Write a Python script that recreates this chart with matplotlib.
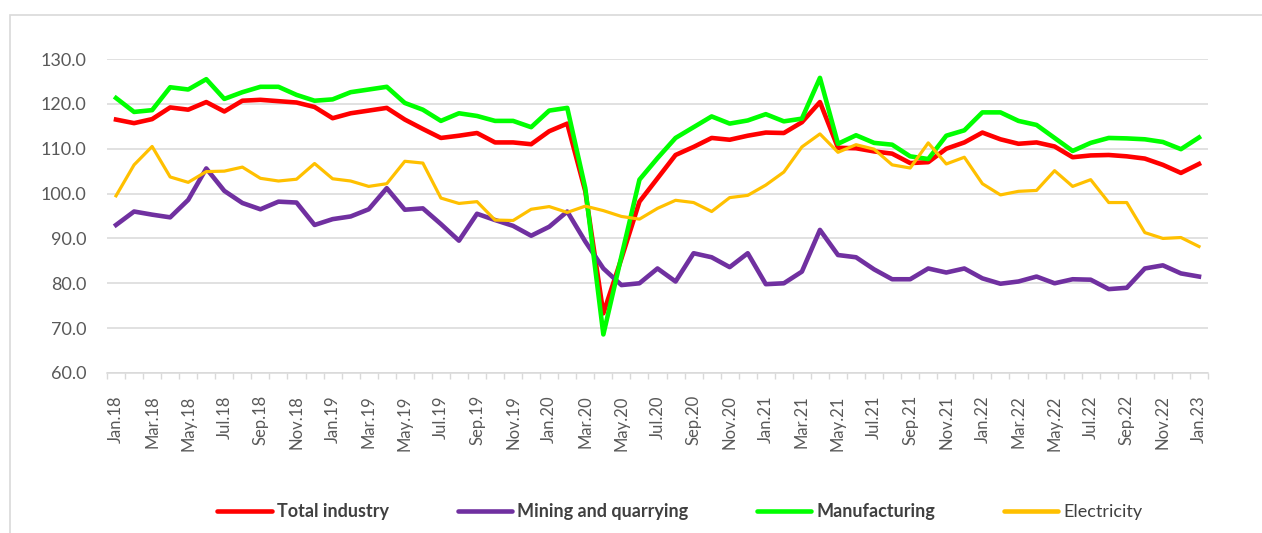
import matplotlib.pyplot as plt
from matplotlib.patches import Rectangle
from matplotlib.ticker import FixedLocator, FormatStrFormatter

plt.rcParams['font.family'] = ['Lato', 'DejaVu Sans']

# monthly index values, Jan.18 .. Jan.23
total = [116.5, 115.7, 116.6, 119.2, 118.7, 120.4, 118.3, 120.7, 120.9, 120.6, 120.3, 119.3,
         116.8, 117.9, 118.5, 119.1, 116.5, 114.4, 112.4, 112.9, 113.5, 111.4, 111.4, 111.0,
         113.9, 115.6, 100.5, 73.3, 85.5, 98.2, 103.4, 108.6, 110.4, 112.4, 112.0, 112.9,
         113.6, 113.5, 115.9, 120.4, 110.2, 110.1, 109.4, 108.9, 106.8, 107.0, 110.0, 111.4,
         113.6, 112.1, 111.1, 111.4, 110.5, 108.1, 108.5, 108.6, 108.3, 107.8, 106.4, 104.6,
         106.6]
mining = [93.0, 96.0, 95.3, 94.7, 98.6, 105.6, 100.6, 97.9, 96.5, 98.2, 98.0, 93.0,
          94.3, 94.9, 96.5, 101.2, 96.4, 96.7, 93.2, 89.5, 95.5, 94.1, 92.8, 90.6,
          92.6, 96.0, 89.3, 83.3, 79.6, 80.0, 83.3, 80.4, 86.7, 85.8, 83.6, 86.7,
          79.8, 80.0, 82.6, 91.9, 86.3, 85.8, 83.1, 80.9, 80.9, 83.3, 82.4, 83.3,
          81.1, 79.9, 80.4, 81.5, 80.0, 80.9, 80.8, 78.7, 79.0, 83.3, 84.0, 82.2,
          81.5]
manufacturing = [121.3, 118.2, 118.6, 123.7, 123.2, 125.5, 121.1, 122.6, 123.8, 123.8, 122.0, 120.7,
                 121.0, 122.6, 123.2, 123.8, 120.2, 118.7, 116.2, 117.9, 117.3, 116.2, 116.2, 114.8,
                 118.5, 119.1, 101.2, 68.6, 86.0, 103.1, 107.9, 112.4, 114.8, 117.2, 115.6, 116.3,
                 117.7, 116.1, 116.7, 125.8, 111.1, 113.0, 111.3, 110.9, 108.3, 107.7, 112.9, 114.1,
                 118.1, 118.1, 116.2, 115.3, 112.4, 109.5, 111.3, 112.4, 112.3, 112.1, 111.5, 109.9,
                 112.5]
electricity = [99.5, 106.4, 110.5, 103.7, 102.5, 104.9, 105.0, 105.9, 103.4, 102.8, 103.2, 106.7,
               103.3, 102.8, 101.6, 102.2, 107.2, 106.8, 99.0, 97.8, 98.2, 94.1, 94.0, 96.5,
               97.1, 95.8, 97.2, 96.2, 94.9, 94.3, 96.7, 98.5, 98.0, 96.0, 99.1, 99.6,
               101.9, 104.8, 110.4, 113.3, 109.2, 110.9, 109.9, 106.4, 105.7, 111.3, 106.6, 108.1,
               102.2, 99.7, 100.5, 100.7, 105.1, 101.6, 103.1, 98.0, 98.0, 91.3, 90.0, 90.2,
               88.2]

month_names = ['Jan', 'Feb', 'Mar', 'Apr', 'May', 'Jun', 'Jul', 'Aug', 'Sep', 'Oct', 'Nov', 'Dec']
years = ['18', '19', '20', '21', '22', '23']
labels = [m + '.' + y for y in years for m in month_names][:len(total)]

x = list(range(len(total)))

fig = plt.figure(figsize=(12.62, 5.33), dpi=100)
ax = fig.add_axes([107 / 1262, 1 - 373 / 533, 1101 / 1262, 314 / 533])

# chart border like the excel chart area
fig.patches.append(Rectangle((10 / 1262, -0.05), 1.1, 1 - 15 / 533 + 0.05,
                             transform=fig.transFigure, fill=False,
                             edgecolor='#D9D9D9', linewidth=1.2))

ax.plot(x, total, color='#FF0000', lw=3.3, label='Total industry', zorder=3, solid_joinstyle='round')
ax.plot(x, mining, color='#7030A0', lw=3.3, label='Mining and quarrying', zorder=4, solid_joinstyle='round')
ax.plot(x, manufacturing, color='#00FF00', lw=3.3, label='Manufacturing', zorder=5, solid_joinstyle='round')
ax.plot(x, electricity, color='#FFC000', lw=2.3, label='Electricity', zorder=6, solid_joinstyle='round')

ax.set_ylim(60, 130)
ax.set_xlim(-0.5, len(total) - 0.5)
ax.set_yticks([60, 70, 80, 90, 100, 110, 120, 130])
ax.yaxis.set_major_formatter(FormatStrFormatter('%.1f'))
ax.grid(axis='y', color='#D9D9D9', lw=1.1, zorder=0)
ax.set_axisbelow(True)

ax.set_xticks(x[::2])
ax.set_xticklabels(labels[::2], rotation=90)
ax.xaxis.set_minor_locator(FixedLocator([i - 0.5 for i in range(len(total) + 1)]))
ax.tick_params(axis='x', which='major', length=0, pad=16, labelsize=12, labelcolor='#595959')
ax.tick_params(axis='x', which='minor', length=4, color='#D9D9D9', width=1)
ax.tick_params(axis='y', length=0, pad=15, labelsize=13, labelcolor='#595959')

for s in ['top', 'right', 'left']:
    ax.spines[s].set_visible(False)
ax.spines['bottom'].set_color('#D9D9D9')
ax.spines['bottom'].set_linewidth(1.1)

leg = fig.legend(loc='center', bbox_to_anchor=(680 / 1262, 1 - 512 / 533), ncol=4,
                 frameon=False, fontsize=13, handlelength=3.0, handletextpad=0.3,
                 columnspacing=3.8)
for line in leg.get_lines():
    line.set_linewidth(3.3)
    line.set_solid_capstyle('round')
for i, t in enumerate(leg.get_texts()):
    t.set_color('#404040')
    if i < 3:
        t.set_fontweight('bold')

fig.savefig('out.png', dpi=100, facecolor='white')
